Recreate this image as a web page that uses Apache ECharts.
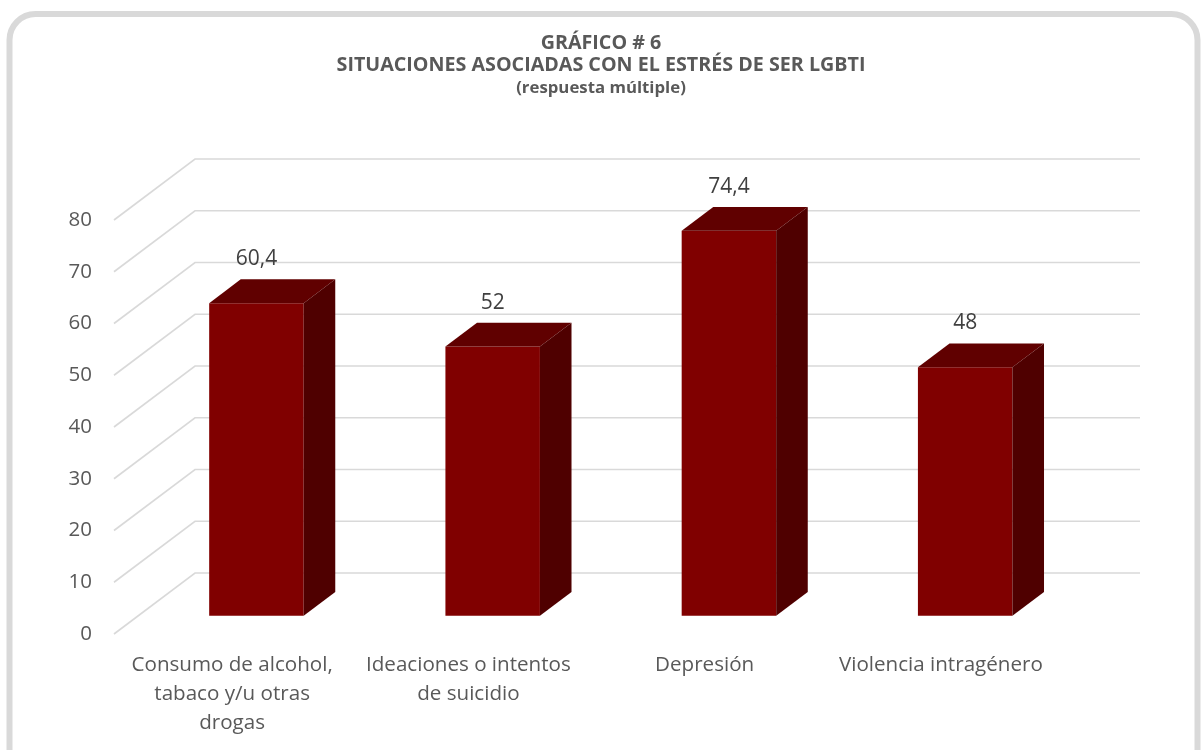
<!DOCTYPE html>
<html>
<head>
<meta charset="utf-8">
<script src="https://cdn.jsdelivr.net/npm/echarts@6/dist/echarts.min.js"></script>
<style>
  html, body { margin: 0; padding: 0; background: #fff; }
  #chart { width: 1202px; height: 750px; }
</style>
</head>
<body>
<div id="chart"></div>
<script>
var titleLines = ['GRÁFICO # 6', 'SITUACIONES ASOCIADAS CON EL ESTRÉS DE SER LGBTI']
var subtitle = '(respuesta múltiple)'
var categories = [
    'Consumo de alcohol,\ntabaco y/u otras\ndrogas',
    'Ideaciones o intentos\nde suicidio',
    'Depresión',
    'Violencia intragénero'
]
var values = [60.4, 52, 74.4, 48]
var yTicks = [0, 10, 20, 30, 40, 50, 60, 70, 80]

// oblique depth of the floor / walls (px)
var DX = 81
var DY = -61
// bars sit between these fractions of the depth
var F0 = 0.3
var F1 = 0.69

var chart = echarts.init(document.getElementById('chart'))

var font = '"Open Sans", Lato, sans-serif'

var option = {
    animation: false,
    backgroundColor: '#fff',
    graphic: [{
        type: 'rect',
        shape: { x: 9.5, y: 14, width: 1188, height: 780, r: 26 },
        style: { fill: 'none', stroke: '#d9d9d9', lineWidth: 6 },
        silent: true
    }, {
        type: 'text',
        x: 601,
        y: 43,
        style: {
            text: titleLines[0],
            align: 'center',
            verticalAlign: 'middle',
            fill: '#595959',
            font: 'bold 19.7px ' + font
        }
    }, {
        type: 'text',
        x: 601,
        y: 65,
        style: {
            text: titleLines[1],
            align: 'center',
            verticalAlign: 'middle',
            fill: '#595959',
            font: 'bold 19.7px ' + font
        }
    }, {
        type: 'text',
        x: 601,
        y: 88,
        style: {
            text: subtitle,
            align: 'center',
            verticalAlign: 'middle',
            fill: '#595959',
            font: 'bold 16.8px ' + font
        }
    }],
    grid: {
        left: 114,
        top: 220,
        width: 945,
        height: 414
    },
    xAxis: {
        type: 'category',
        data: categories,
        axisLine: { show: false },
        axisTick: { show: false },
        axisLabel: {
            interval: 0,
            margin: 17,
            color: '#595959',
            fontFamily: font,
            fontSize: 20.6,
            lineHeight: 29,
            align: 'center'
        }
    },
    yAxis: {
        type: 'value',
        min: 0,
        max: 80,
        interval: 10,
        axisLine: { show: false },
        axisTick: { show: false },
        splitLine: { show: false },
        axisLabel: {
            margin: 22,
            color: '#595959',
            fontFamily: font,
            fontSize: 20.5
        }
    },
    series: [{
        // side and back walls
        type: 'custom',
        z: 1,
        silent: true,
        data: yTicks.map(function(v) { return [0, v] }),
        renderItem: function(params, api) {
            var cs = params.coordSys
            var y = api.coord([0, api.value(1)])[1]
            var x0 = cs.x
            return {
                type: 'polyline',
                shape: {
                    points: [[x0, y], [x0 + DX, y + DY], [x0 + DX + cs.width, y + DY]]
                },
                style: { stroke: '#d9d9d9', lineWidth: 1.6, fill: 'none' }
            }
        }
    }, {
        // 3d bars
        type: 'custom',
        z: 2,
        data: values.map(function(v, i) { return [i, v] }),
        renderItem: function(params, api) {
            var i = api.value(0)
            var v = api.value(1)
            var top = api.coord([i, v])
            var base = api.coord([i, 0])
            var bw = api.size([1, 0])[0] * 0.4
            var x1 = top[0] - bw / 2 + DX * F0
            var x2 = x1 + bw
            var yt = top[1] + DY * F0
            var yb = base[1] + DY * F0
            var d = DX * (F1 - F0)
            var e = DY * (F1 - F0)
            return {
                type: 'group',
                children: [{
                    type: 'polygon',
                    shape: { points: [[x1, yb], [x1, yt], [x2, yt], [x2, yb]] },
                    style: { fill: '#800000' }
                }, {
                    type: 'polygon',
                    shape: { points: [[x1, yt], [x2, yt], [x2 + d, yt + e], [x1 + d, yt + e]] },
                    style: { fill: '#600000' }
                }, {
                    type: 'polygon',
                    shape: { points: [[x2, yt], [x2 + d, yt + e], [x2 + d, yb + e], [x2, yb]] },
                    style: { fill: '#4f0000' }
                }, {
                    type: 'text',
                    style: {
                        x: x1 + bw / 2,
                        y: yt + e - 20,
                        text: String(v).replace('.', ','),
                        align: 'center',
                        verticalAlign: 'middle',
                        fill: '#404040',
                        font: '21px ' + font
                    }
                }]
            }
        }
    }]
}

chart.setOption(option)
</script>
</body>
</html>
